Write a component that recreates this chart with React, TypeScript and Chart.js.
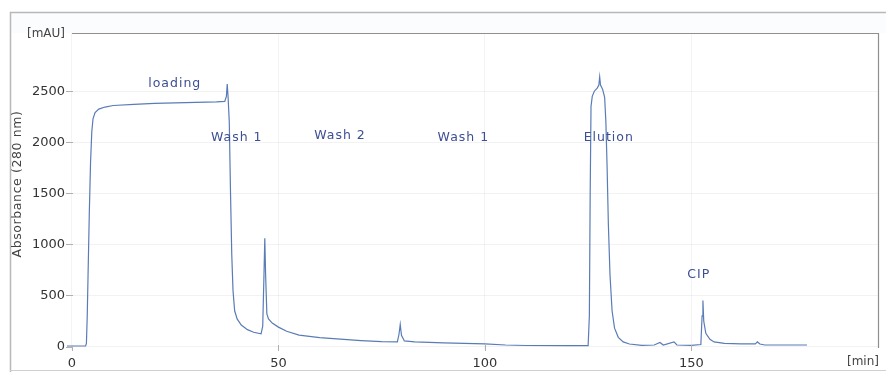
import React, { useEffect, useRef } from "react";
import { Chart, registerables } from "chart.js";

Chart.register(...registerables);

// Chromatogram trace: time [min] and absorbance [mAU]
const TIME = [
  -1.2, 3.3, 3.5, 3.7, 3.9, 4.2, 4.5, 4.8, 5.1, 5.6, 6.5, 8, 10, 15, 20, 25, 30, 35, 37.0, 37.4, 37.6, 37.8,
  38.1, 38.4, 38.7, 39.0, 39.4, 40, 41, 42.5, 44, 45.8, 46.2, 46.5, 46.7, 46.9, 47.2, 47.6, 48.5, 50, 52, 55,
  60, 65, 70, 75, 78.8, 79.2, 79.5, 79.8, 80.5, 83, 90, 95, 100, 105, 110, 120, 125.0, 125.3, 125.5, 125.7,
  126.0, 126.5, 127.2, 127.6, 127.8, 128.0, 128.5, 129.0, 129.3, 129.6, 129.9, 130.3, 130.8, 131.4, 132.3,
  133.5, 135, 138, 141, 142.4, 143.2, 145.8, 146.5, 150, 152.3, 152.6, 152.8, 153.0, 153.5, 154.5, 155.5, 158,
  162, 165.5, 166, 166.6, 167.8, 178,
];
const ABS = [
  5, 5, 30, 300, 700, 1300, 1800, 2100, 2230, 2290, 2325, 2345, 2360, 2372, 2380, 2385, 2390, 2395, 2400, 2450,
  2570, 2450, 2200, 1500, 900, 550, 350, 270, 210, 165, 140, 125, 200, 700, 1060, 700, 320, 270, 230, 190, 150,
  112, 88, 72, 58, 48, 45, 120, 215, 110, 55, 45, 35, 30, 25, 15, 10, 8, 8, 300, 1500, 2350, 2450, 2500, 2530,
  2560, 2640, 2560, 2520, 2440, 2200, 1750, 1200, 700, 350, 180, 90, 45, 25, 12, 15, 40, 15, 45, 15, 12, 20,
  300, 450, 250, 130, 70, 45, 30, 25, 25, 45, 25, 15, 15,
];

// Axis ticks
const X_TICKS = [0, 50, 100, 150];
const Y_TICKS = [0, 500, 1000, 1500, 2000, 2500];

// Phase annotations
const PHASE_LABELS = ["loading", "Wash 1", "Wash 2", "Wash 1", "Elution", "CIP"];
const PHASE_X = [24.9, 39.9, 64.9, 94.8, 130.0, 151.8];
const PHASE_Y = [2571, 2049, 2062, 2049, 2049, 700];

const FONT = "'DejaVu Sans', 'Liberation Sans', sans-serif";

const decorPlugin = {
  id: "decor",
  beforeDraw(chart: any) {
    const { ctx, chartArea: a, width, height } = chart;
    ctx.save();
    ctx.fillStyle = "#ffffff";
    ctx.fillRect(0, 0, width, height);
    ctx.fillStyle = "#fbfcfe";
    ctx.fillRect(11, 13, width - 11, a.top - 13);
    // outer frame
    ctx.strokeStyle = "#b8b8b8";
    ctx.lineWidth = 1.5;
    ctx.beginPath();
    ctx.moveTo(width, 12.5);
    ctx.lineTo(10.5, 12.5);
    ctx.lineTo(10.5, height);
    ctx.stroke();
    ctx.strokeStyle = "#d0d0d0";
    ctx.lineWidth = 1;
    ctx.beginPath();
    ctx.moveTo(10, height - 1.5);
    ctx.lineTo(width, height - 1.5);
    ctx.stroke();
    ctx.restore();
  },
  afterDraw(chart: any) {
    const { ctx, chartArea: a, scales } = chart;
    const xs = scales.x;
    const ys = scales.y;
    ctx.save();
    // plot border top & right
    ctx.strokeStyle = "#8f8f8f";
    ctx.lineWidth = 1.2;
    ctx.beginPath();
    ctx.moveTo(72, a.top + 0.5);
    ctx.lineTo(a.right + 0.5, a.top + 0.5);
    ctx.lineTo(a.right + 0.5, a.bottom - 2);
    ctx.stroke();
    // tick marks
    ctx.strokeStyle = "#b0b0b0";
    ctx.lineWidth = 1;
    Y_TICKS.forEach((v) => {
      const y = Math.round(ys.getPixelForValue(v)) + 0.5;
      ctx.beginPath();
      ctx.moveTo(a.left - 1, y);
      ctx.lineTo(a.left + 6, y);
      ctx.stroke();
    });
    X_TICKS.forEach((v) => {
      const x = Math.round(xs.getPixelForValue(v)) + 0.5;
      ctx.beginPath();
      ctx.moveTo(x, a.bottom + 1);
      ctx.lineTo(x, a.bottom - 5);
      ctx.stroke();
    });
    // unit labels
    ctx.fillStyle = "#444";
    ctx.font = `12px ${FONT}`;
    ctx.textBaseline = "middle";
    ctx.textAlign = "left";
    ctx.fillText("[mAU]", 27, a.top + 0.5);
    ctx.fillText("[min]", 847, 362);
    // y axis title
    ctx.save();
    ctx.translate(18, 184);
    ctx.rotate(-Math.PI / 2);
    ctx.textAlign = "center";
    ctx.font = `12.5px ${FONT}`;
    (ctx as any).letterSpacing = "0.6px";
    ctx.fillText("Absorbance (280 nm)", 0, 0);
    ctx.restore();
    // phase annotations
    ctx.fillStyle = "#3d4f93";
    ctx.font = `12.5px ${FONT}`;
    (ctx as any).letterSpacing = "1px";
    ctx.textAlign = "center";
    PHASE_LABELS.forEach((t, i) => {
      ctx.fillText(t, xs.getPixelForValue(PHASE_X[i]), ys.getPixelForValue(PHASE_Y[i]));
    });
    ctx.restore();
  },
};

export default function App() {
  const ref = useRef<HTMLCanvasElement | null>(null);
  useEffect(() => {
    document.body.style.margin = "0";
    const canvas = ref.current;
    if (!canvas) return;
    const chart = new Chart(canvas, {
      type: "line",
      data: {
        datasets: [
          {
            data: TIME.map((t, i) => ({ x: t, y: ABS[i] })),
            borderColor: "#5a7cb6",
            borderWidth: 1.2,
            pointRadius: 0,
            tension: 0,
            fill: false,
          },
        ],
      },
      options: {
        responsive: false,
        animation: false,
        events: [],
        layout: { padding: { left: 0, right: 8, top: 33, bottom: 0 } },
        plugins: { legend: { display: false }, tooltip: { enabled: false } },
        scales: {
          x: {
            type: "linear",
            min: -1.2,
            max: 195.2,
            afterFit: (s: any) => {
              s.height = 22;
            },
            afterBuildTicks: (s: any) => {
              s.ticks = X_TICKS.map((v) => ({ value: v }));
            },
            border: { display: false },
            grid: { color: "rgba(0,0,0,0.045)", drawTicks: false },
            ticks: {
              padding: 6,
              color: "#333",
              font: { family: FONT, size: 13 },
              callback: (v: any) => String(v),
              maxRotation: 0,
            },
          },
          y: {
            type: "linear",
            min: -34,
            max: 3070,
            afterFit: (s: any) => {
              s.width = 67;
            },
            afterBuildTicks: (s: any) => {
              s.ticks = Y_TICKS.map((v) => ({ value: v }));
            },
            border: { display: false },
            grid: { color: "rgba(0,0,0,0.05)", drawTicks: false },
            ticks: {
              padding: 2,
              color: "#333",
              font: { family: FONT, size: 13 },
              callback: (v: any) => String(v),
            },
          },
        },
      },
      plugins: [decorPlugin],
    });
    return () => chart.destroy();
  }, []);
  return (
    <div style={{ position: "absolute", left: 0, top: 0, width: 886, height: 372 }}>
      <canvas ref={ref} width={886} height={372} />
    </div>
  );
}
